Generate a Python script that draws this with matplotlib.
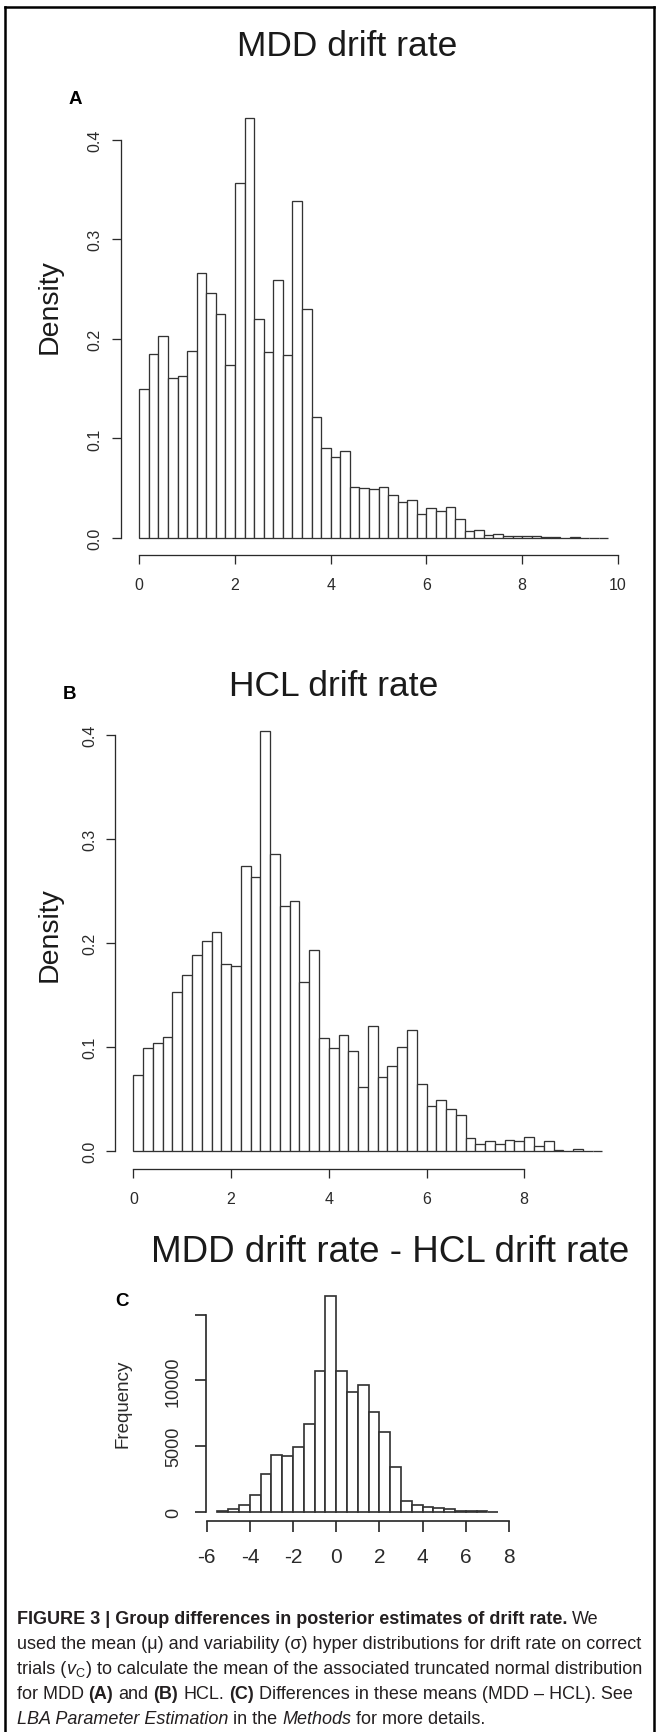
import numpy as np
import matplotlib
matplotlib.use("Agg")
import matplotlib.pyplot as plt
from matplotlib.lines import Line2D

# ---- data ----
mdd_bin_start = 0.0
mdd_bin_width = 0.2
mdd_density = [0.150, 0.185, 0.203, 0.161, 0.163, 0.188, 0.266, 0.246, 0.225, 0.174,
               0.356, 0.422, 0.220, 0.187, 0.259, 0.184, 0.338, 0.230, 0.121, 0.090,
               0.081, 0.087, 0.051, 0.050, 0.049, 0.051, 0.043, 0.036, 0.038, 0.024,
               0.030, 0.027, 0.031, 0.019, 0.007, 0.008, 0.003, 0.0045, 0.0017, 0.002,
               0.002, 0.0023, 0.0008, 0.0008, 0.0003, 0.0006, 0.0002, 0.0001, 0.0001]
mdd_xticks = [0, 2, 4, 6, 8, 10]
mdd_yticks = [0.0, 0.1, 0.2, 0.3, 0.4]

hcl_bin_start = 0.0
hcl_bin_width = 0.2
hcl_density = [0.0735, 0.0993, 0.1043, 0.110, 0.1533, 0.1695, 0.1887, 0.202, 0.211, 0.180,
               0.1775, 0.2742, 0.2636, 0.4036, 0.2854, 0.2358, 0.2401, 0.1629, 0.1930, 0.1083,
               0.099, 0.1113, 0.0964, 0.0613, 0.1199, 0.0712, 0.0821, 0.100, 0.1166, 0.0642,
               0.043, 0.049, 0.0404, 0.0344, 0.0126, 0.0066, 0.0099, 0.0066, 0.0106, 0.0099,
               0.0132, 0.005, 0.0093, 0.0007, 0.0003, 0.0017, 0.0002, 0.0001]
hcl_xticks = [0, 2, 4, 6, 8]
hcl_yticks = [0.0, 0.1, 0.2, 0.3, 0.4]

diff_bin_start = -5.5
diff_bin_width = 0.5
diff_freq = [80, 180, 480, 1300, 2870, 4340, 4260, 4900, 6680, 10680,
             16420, 10680, 9090, 9650, 7610, 6070, 3430, 810, 480, 380,
             280, 180, 80, 70, 60, 10]
diff_xticks = [-6, -4, -2, 0, 2, 4, 6, 8]
diff_yticks = [0, 5000, 10000, 15000]
diff_yticklabels = ["0", "5000", "10000", ""]

# ---- figure ----
W, H, DPI = 657, 1733, 100
plt.rcParams["font.family"] = ["Liberation Sans", "DejaVu Sans"]
plt.rcParams["mathtext.fontset"] = "custom"
plt.rcParams["mathtext.rm"] = "Liberation Sans"
plt.rcParams["mathtext.it"] = "Liberation Sans:italic"
plt.rcParams["mathtext.bf"] = "Liberation Sans:bold"

fig = plt.figure(figsize=(W / DPI, H / DPI), dpi=DPI)
fig.patch.set_facecolor("white")


def pt(p):
    # pixels -> points
    return p * 72.0 / DPI


def fx(x):
    return x / W


def fy(y):
    return 1 - y / H


INK = "#2a2a2a"


def panel(left, axis_y, x0_val, x0_px, ppx, base_px, ppy, xmax, ymax, lw):
    xl = x0_val + (left - x0_px) / ppx
    right = x0_px + (xmax - x0_val) * ppx
    yb = -(axis_y - base_px) / ppy
    top = base_px - ymax * ppy
    ax = fig.add_axes([fx(left), fy(axis_y), (right - left) / W, (axis_y - top) / H])
    ax.set_xlim(xl, xmax)
    ax.set_ylim(yb, ymax)
    ax.patch.set_alpha(0)
    for s in ("top", "right"):
        ax.spines[s].set_visible(False)
    for s in ("left", "bottom"):
        ax.spines[s].set_linewidth(lw)
        ax.spines[s].set_color(INK)
    return ax


def hist(ax, start, width, values, lw):
    x = start + width * np.arange(len(values))
    ax.bar(x, values, width=width, align="edge", color="white",
           edgecolor="#333333", linewidth=lw)


TICK_FS = 11.5

# Panel A
lwA = pt(1.3)
axA = panel(120.7, 556, 0.0, 139.3, 47.85, 539, 996, 10.3, 0.43, lwA)
hist(axA, mdd_bin_start, mdd_bin_width, mdd_density, lwA)
axA.spines["left"].set_bounds(mdd_yticks[0], mdd_yticks[-1])
axA.spines["bottom"].set_bounds(mdd_xticks[0], mdd_xticks[-1])
axA.set_xticks(mdd_xticks)
axA.set_yticks(mdd_yticks)
axA.set_yticklabels([f"{v:.1f}" for v in mdd_yticks], rotation=90, va="center")
axA.tick_params(axis="both", direction="out", length=pt(9), width=lwA, colors=INK,
                labelsize=TICK_FS)
axA.tick_params(axis="x", pad=pt(13.2))
axA.tick_params(axis="y", pad=pt(9.1))

# Panel B
axB = panel(115, 1170, 0.0, 133.4, 48.85, 1152, 1040, 9.8, 0.41, lwA)
hist(axB, hcl_bin_start, hcl_bin_width, hcl_density, lwA)
axB.spines["left"].set_bounds(hcl_yticks[0], hcl_yticks[-1])
axB.spines["bottom"].set_bounds(hcl_xticks[0], hcl_xticks[-1])
axB.set_xticks(hcl_xticks)
axB.set_yticks(hcl_yticks)
axB.set_yticklabels([f"{v:.1f}" for v in hcl_yticks], rotation=90, va="center")
axB.tick_params(axis="both", direction="out", length=pt(9), width=lwA, colors=INK,
                labelsize=TICK_FS)
axB.tick_params(axis="x", pad=pt(13.2))
axB.tick_params(axis="y", pad=pt(8.6))

# Panel C
lwC = pt(1.7)
axC = panel(205.7, 1522.3, -6.0, 206.7, 21.6, 1512.7, 65.7 / 5000, 8.3, 16800, lwC)
hist(axC, diff_bin_start, diff_bin_width, diff_freq, lwC)
axC.spines["left"].set_bounds(diff_yticks[0], diff_yticks[-1])
axC.spines["bottom"].set_bounds(diff_xticks[0], diff_xticks[-1])
axC.set_xticks(diff_xticks)
axC.set_xticklabels([str(v) for v in diff_xticks])
axC.set_yticks(diff_yticks)
axC.set_yticklabels(diff_yticklabels, rotation=90, va="center")
axC.tick_params(axis="both", direction="out", length=pt(11), width=lwC, colors=INK)
axC.tick_params(axis="x", labelsize=15, pad=pt(15.2))
axC.tick_params(axis="y", labelsize=13, pad=pt(12.7))

# titles, axis labels, panel letters
fig.text(fx(347), fy(46), "MDD drift rate", fontsize=25.5, ha="center", va="center", color="#1a1a1a")
fig.text(fx(334), fy(686), "HCL drift rate", fontsize=25.5, ha="center", va="center", color="#1a1a1a")
fig.text(fx(390), fy(1253), "MDD drift rate - HCL drift rate", fontsize=26.5, ha="center",
         va="center", color="#1a1a1a")
fig.text(fx(50), fy(307), "Density", fontsize=20.5, rotation=90, ha="center", va="center", color="#1a1a1a")
fig.text(fx(50), fy(935), "Density", fontsize=20.5, rotation=90, ha="center", va="center", color="#1a1a1a")
fig.text(fx(123), fy(1404), "Frequency", fontsize=13.5, rotation=90, ha="center", va="center", color=INK)
for lab, (x, y) in zip(["A", "B", "C"], [(75, 100), (70, 695), (122, 1302)]):
    fig.text(fx(x), fy(y), lab, fontsize=13.5, fontweight="bold", ha="center", va="center", color="black")

# outer frame
frame_kw = dict(color="black", linewidth=pt(2.5), transform=fig.transFigure)
fig.add_artist(Line2D([fx(5), fx(5)], [fy(8), fy(H + 5)], **frame_kw))
fig.add_artist(Line2D([fx(5), fx(654)], [fy(8), fy(8)], **frame_kw))
fig.add_artist(Line2D([fx(654), fx(654)], [fy(8), fy(H + 5)], **frame_kw))

# caption with mixed styles
CAP = "#231f20"
CAP_SIZE = 13
renderer = fig.canvas.get_renderer()


def text_width(s, **kw):
    t = fig.text(0, 0, s, fontsize=CAP_SIZE, **kw)
    w = t.get_window_extent(renderer=renderer).width
    t.remove()
    return w


SPACE = text_width("x x") - text_width("xx")


def caption_line(y, parts, x=16.6):
    for s, kw in parts:
        if s == " ":
            x += SPACE
            continue
        t = fig.text(fx(x), fy(y), s, fontsize=CAP_SIZE, ha="left", va="baseline",
                     color=CAP, **kw)
        x += t.get_window_extent(renderer=renderer).width


N = {}
BOLD = {"fontweight": "bold"}
I = {"fontstyle": "italic"}
caption_line(1624, [("FIGURE 3 | Group differences in posterior estimates of drift rate.", BOLD),
                    (" ", N), ("We", N)])
caption_line(1649, [("used the mean (\u03bc) and variability (\u03c3) hyper distributions for drift rate on correct", N)])
caption_line(1674, [("trials (", N), (r"$v_{\mathrm{C}}$", N),
                    (") to calculate the mean of the associated truncated normal distribution", N)])
caption_line(1699, [("for MDD", N), (" ", N), ("(A)", BOLD), (" ", N), ("and", N), (" ", N),
                    ("(B)", BOLD), (" ", N), ("HCL.", N), (" ", N),
                    ("(C)", BOLD), (" ", N),
                    ("Differences in these means (MDD \u2013 HCL). See", N)])
caption_line(1724, [("LBA Parameter Estimation", I), (" ", N), ("in the", N), (" ", N),
                    ("Methods", I), (" ", N), ("for more details.", N)])

fig.savefig("out.png", dpi=DPI, facecolor="white")
